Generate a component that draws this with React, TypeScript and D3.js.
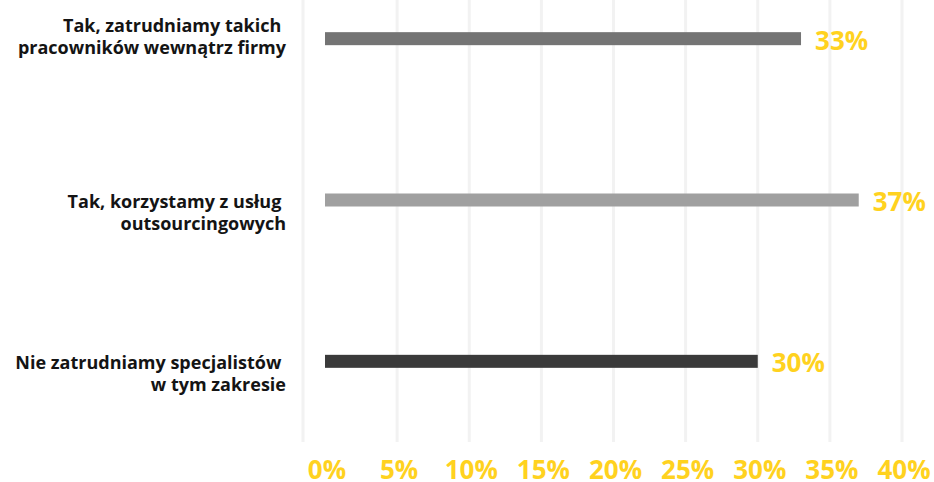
import React from "react";
import * as d3 from "d3";

const categories: string[][] = [
  ["Tak, zatrudniamy takich ", "pracowników wewnątrz firmy"],
  ["Tak, korzystamy z usług ", "outsourcingowych"],
  ["Nie zatrudniamy specjalistów ", "w tym zakresie"],
];
const values: number[] = [33, 37, 30];
const barColors: string[] = ["#747474", "#a0a0a0", "#3a3a3a"];
const ticks: number[] = [0, 5, 10, 15, 20, 25, 30, 35, 40];

const W = 934;
const H = 482;
const FONT = "'Open Sans', sans-serif";
const YELLOW = "#ffd21f";

export default function App() {
  const frameLeft = 303;
  const x = d3.scaleLinear().domain([0, 40]).range([325, 902]);
  const y = d3
    .scaleBand<number>()
    .domain(values.map((_, i) => i))
    .range([-42, 442]);
  const barH = 13;
  const gridBottom = 442;
  const labelRight = 286;

  return (
    <div style={{ position: "fixed", left: 0, top: 0 }}>
      <svg width={W} height={H} style={{ display: "block", background: "#fff" }}>
        {/* vertical gridlines */}
        <line x1={frameLeft} x2={frameLeft} y1={0} y2={gridBottom} stroke="#f2f2f2" strokeWidth={3} />
        {ticks
          .filter((t) => t > 0)
          .map((t) => (
            <line key={t} x1={x(t)} x2={x(t)} y1={0} y2={gridBottom} stroke="#f2f2f2" strokeWidth={3} />
          ))}

        {/* bars */}
        {values.map((v, i) => {
          const cy = (y(i) as number) + y.bandwidth() / 2;
          return (
            <rect
              key={i}
              x={x(0)}
              y={cy - barH / 2}
              width={x(v) - x(0)}
              height={barH}
              fill={barColors[i]}
            />
          );
        })}

        {/* value labels */}
        {values.map((v, i) => {
          const cy = (y(i) as number) + y.bandwidth() / 2;
          return (
            <text
              key={i}
              x={x(v) + 14}
              y={cy + 11}
              fill={YELLOW}
              fontFamily={FONT}
              fontWeight={700}
              fontSize={26}
            >
              {v}%
            </text>
          );
        })}

        {/* category labels */}
        {categories.map((lines, i) => {
          const cy = (y(i) as number) + y.bandwidth() / 2;
          const base = i === 0 ? cy - 7 : cy + 7.5;
          return (
            <text
              key={i}
              x={labelRight}
              y={base}
              textAnchor="end"
              fontFamily={FONT}
              fontWeight={700}
              fontSize={18}
              fill="#141414"
              style={{ whiteSpace: "pre" }}
            >
              {lines.map((l, j) => (
                <tspan key={j} x={labelRight} dy={j === 0 ? 0 : 22.5}>
                  {l}
                </tspan>
              ))}
            </text>
          );
        })}

        {/* x tick labels */}
        {ticks.map((t) => (
          <text
            key={t}
            x={x(t) + 2}
            y={479}
            textAnchor="middle"
            fill={YELLOW}
            fontFamily={FONT}
            fontWeight={700}
            fontSize={26}
          >
            {t}%
          </text>
        ))}
      </svg>
    </div>
  );
}
